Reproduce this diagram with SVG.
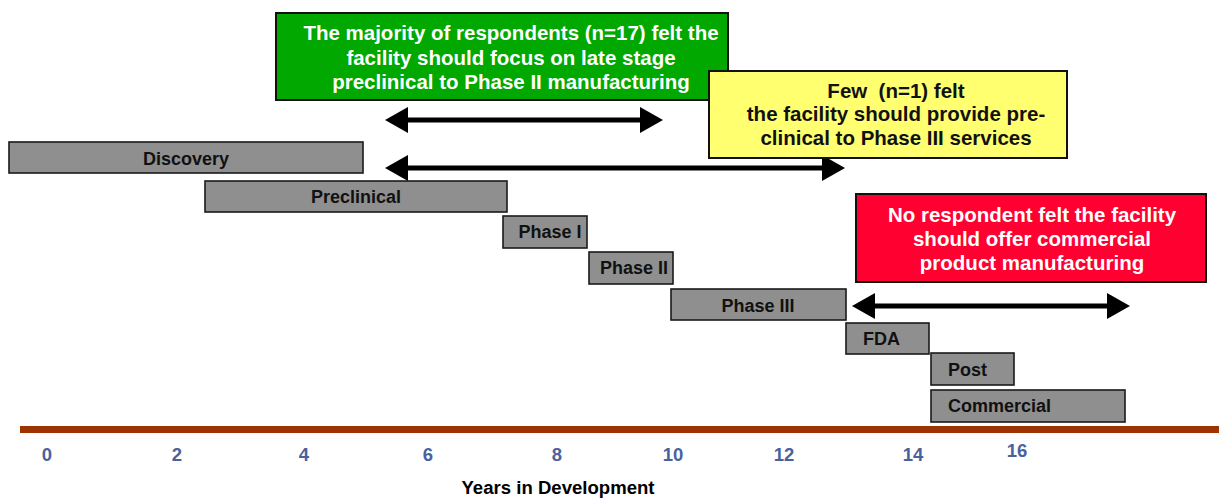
<svg xmlns="http://www.w3.org/2000/svg" width="1219" height="498" viewBox="0 0 1219 498">
  <style>
    text { font-family: "Liberation Sans", Arial, sans-serif; font-weight: bold; }
    .bar { fill: #8f8f8f; stroke: #1a1a1a; stroke-width: 1.6; }
    .barlbl { fill: #111; font-size: 18px; }
    .callout { stroke: #111; stroke-width: 2; }
    .wtxt { fill: #ffffff; font-size: 20.5px; text-anchor: middle; }
    .ktxt { fill: #111111; font-size: 20.5px; text-anchor: middle; }
    .tick { fill: #4862a0; font-size: 18.5px; text-anchor: middle; }
    .span { stroke: #000; stroke-width: 5; fill: none; marker-start: url(#head); marker-end: url(#head); }
  </style>
  <defs>
    <marker id="head" viewBox="0 0 23 26" refX="8" refY="13" markerWidth="23" markerHeight="26" markerUnits="userSpaceOnUse" orient="auto-start-reverse">
      <path d="M0,0 L23,13 L0,26 Z" fill="#000"/>
    </marker>
  </defs>

  <rect width="1219" height="498" fill="#ffffff"/>

  <!-- time axis -->
  <g id="axis">
    <rect x="20" y="426" width="1199" height="7" fill="#9c3300"/>
    <text class="tick" x="47" y="461">0</text>
    <text class="tick" x="177" y="461">2</text>
    <text class="tick" x="304" y="461">4</text>
    <text class="tick" x="428" y="461">6</text>
    <text class="tick" x="557" y="461">8</text>
    <text class="tick" x="673" y="461">10</text>
    <text class="tick" x="784" y="461">12</text>
    <text class="tick" x="913" y="461">14</text>
    <text class="tick" x="1017" y="457">16</text>
    <text x="558" y="494" font-size="18" fill="#000" text-anchor="middle" textLength="193" lengthAdjust="spacingAndGlyphs">Years in Development</text>
  </g>

  <!-- development phases -->
  <g id="discovery">
    <rect class="bar" x="9" y="142" width="354" height="31"/>
    <text class="barlbl" x="186" y="165" text-anchor="middle">Discovery</text>
  </g>
  <g id="preclinical">
    <rect class="bar" x="205" y="181" width="302" height="31"/>
    <text class="barlbl" x="356" y="203" text-anchor="middle">Preclinical</text>
  </g>
  <g id="phase1">
    <rect class="bar" x="503" y="216" width="84" height="32"/>
    <text class="barlbl" x="550" y="238" text-anchor="middle" font-size="14.5">Phase I</text>
  </g>
  <g id="phase2">
    <rect class="bar" x="589" y="252" width="84" height="32"/>
    <text class="barlbl" x="634" y="274" text-anchor="middle" font-size="12.5">Phase II</text>
  </g>
  <g id="phase3">
    <rect class="bar" x="671" y="289" width="175" height="31"/>
    <text class="barlbl" x="758" y="312" text-anchor="middle">Phase III</text>
  </g>
  <g id="fda">
    <rect class="bar" x="846" y="323" width="83" height="31"/>
    <text class="barlbl" x="863" y="345">FDA</text>
  </g>
  <g id="post">
    <rect class="bar" x="931" y="353" width="83" height="32"/>
    <text class="barlbl" x="948" y="376">Post</text>
  </g>
  <g id="commercial">
    <rect class="bar" x="931" y="390" width="194" height="32"/>
    <text class="barlbl" x="948" y="412">Commercial</text>
  </g>

  <!-- range arrows -->
  <g id="connectors">
    <line class="span" x1="400" y1="120" x2="648" y2="120"/>
    <line class="span" x1="400" y1="168" x2="830" y2="168"/>
    <line class="span" x1="867" y1="306" x2="1115" y2="306"/>
  </g>

  <!-- survey callouts -->
  <g id="majority">
    <rect class="callout" x="276" y="13" width="452" height="87" fill="#00a800"/>
    <text class="wtxt" x="511" y="40">The majority of respondents (n=17) felt the</text>
    <text class="wtxt" x="511" y="65">facility should focus on late stage</text>
    <text class="wtxt" x="511" y="89">preclinical to Phase II manufacturing</text>
  </g>
  <g id="few">
    <rect class="callout" x="709" y="71" width="358" height="87" fill="#ffff70"/>
    <text class="ktxt" x="896" y="98" xml:space="preserve">Few  (n=1) felt</text>
    <text class="ktxt" x="896" y="121">the facility should provide pre-</text>
    <text class="ktxt" x="896" y="145">clinical to Phase III services</text>
  </g>
  <g id="none">
    <rect class="callout" x="856" y="194" width="350" height="88" fill="#ff0030"/>
    <text class="wtxt" x="1032" y="222">No respondent felt the facility</text>
    <text class="wtxt" x="1032" y="246">should offer commercial</text>
    <text class="wtxt" x="1032" y="270">product manufacturing</text>
  </g>
</svg>
